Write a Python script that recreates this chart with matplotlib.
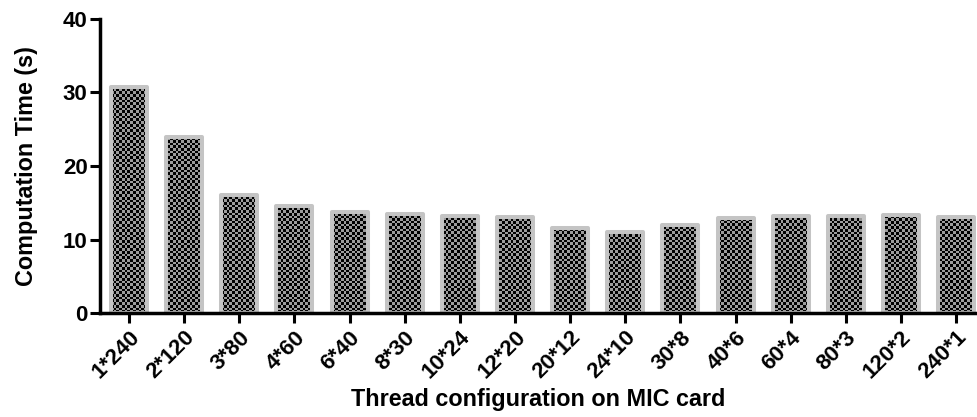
import numpy as np
import matplotlib
matplotlib.use("Agg")
import matplotlib.pyplot as plt
from matplotlib.colors import ListedColormap

categories = ["1*240", "2*120", "3*80", "4*60", "6*40", "8*30", "10*24", "12*20",
              "20*12", "24*10", "30*8", "40*6", "60*4", "80*3", "120*2", "240*1"]
times = [30.7, 24.0, 16.1, 14.5, 13.7, 13.5, 13.2, 13.0,
         11.6, 11.05, 12.0, 12.95, 13.2, 13.25, 13.3, 13.1]
yticks = [0, 10, 20, 30, 40]

plt.rcParams['font.family'] = ['Liberation Sans', 'DejaVu Sans']
plt.rcParams['font.weight'] = 'bold'

fig = plt.figure(figsize=(9.77, 4.17), dpi=100)
ax = fig.add_axes([100/977, 1-313/417, 1-100/977, (313-19)/417])

x = np.arange(len(categories))
bars = ax.bar(x, times, width=0.653, facecolor='none', edgecolor='#c4c4c4',
              linewidth=2.9, joinstyle='round', zorder=3)

ax.set_xlim(-0.526, 15.38)
ax.set_ylim(0, 40)

# checkerboard fill
nx, ny = 325, 109
ii, jj = np.meshgrid(np.arange(nx), np.arange(ny))
checker = ((ii + jj) % 2).astype(float)
cmap = ListedColormap(['#000000', '#9c9c9c'])
xl = ax.get_xlim(); yl = ax.get_ylim()
for b in bars:
    im = ax.imshow(checker, cmap=cmap, interpolation='nearest', aspect='auto',
                   extent=[xl[0], xl[1], yl[0], yl[1]], zorder=2, origin='lower')
    im.set_clip_path(b)
ax.set_xlim(xl); ax.set_ylim(yl)

for s in ['top', 'right']:
    ax.spines[s].set_visible(False)
for s in ['left', 'bottom']:
    ax.spines[s].set_linewidth(2.5)
    ax.spines[s].set_zorder(4)

ax.set_yticks(yticks)
ax.set_yticklabels([str(v) for v in yticks], fontsize=16, fontweight='bold')
ax.set_xticks(x)
ax.set_xticklabels(categories, rotation=45, ha='right', va='top',
                   rotation_mode='anchor', fontsize=16, fontweight='bold')
ax.tick_params(axis='both', length=7, width=2.2, pad=2)
ax.tick_params(axis='x', pad=3)

ax.set_ylabel("Computation Time (s)", fontsize=16.8, fontweight='bold', labelpad=18)
ax.set_xlabel("Thread configuration on MIC card", fontsize=16.8, fontweight='bold', labelpad=4)

fig.savefig("out.png", dpi=100)
